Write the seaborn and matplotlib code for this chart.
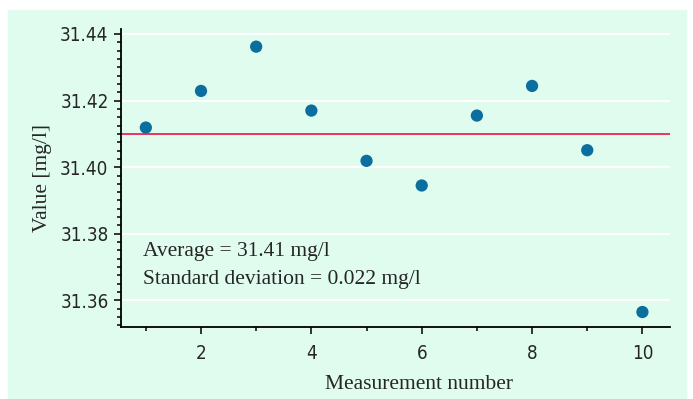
import matplotlib
matplotlib.use('Agg')
import matplotlib.pyplot as plt
import seaborn as sns
import pandas as pd
from matplotlib.ticker import MultipleLocator
from matplotlib.patches import Rectangle
from matplotlib import font_manager

measurement = [1, 2, 3, 4, 5, 6, 7, 8, 9, 10]
value = [31.4119, 31.4229, 31.4362, 31.4170, 31.4019,
         31.3945, 31.4155, 31.4244, 31.4051, 31.3565]
average = 31.41
info_lines = ['Average = 31.41 mg/l', 'Standard deviation = 0.022 mg/l']

df = pd.DataFrame({'Measurement number': measurement, 'Value': value})

mint = '#dffcef'
sns.set_style('white')
plt.rcParams['font.family'] = ['Liberation Serif', 'DejaVu Serif']

fig = plt.figure(figsize=(6.93, 3.99), dpi=100)
# light mint panel behind the whole chart
fig.patches.append(Rectangle((8 / 693, 0), 678 / 693, 389 / 399,
                             transform=fig.transFigure, color=mint, zorder=-5))
ax = fig.add_axes([121 / 693, (399 - 327) / 399, 549 / 693, 298 / 399])
ax.set_facecolor(mint)
ax.set_zorder(2)

sns.scatterplot(data=df, x='Measurement number', y='Value', ax=ax,
                color='#0a6f9f', s=78, edgecolor='none', zorder=3)
ax.axhline(average, color='#ee1248', lw=1.2, zorder=2)

ax.xaxis.set_major_locator(MultipleLocator(2))
ax.xaxis.set_minor_locator(MultipleLocator(1))
ax.yaxis.set_major_locator(MultipleLocator(0.02))
ax.yaxis.set_minor_locator(MultipleLocator(0.0025))
ax.grid(axis='y', which='major', color='white', lw=1.5, zorder=1)
ax.set_axisbelow(True)

for s in ['top', 'right']:
    ax.spines[s].set_visible(False)
for s in ['left', 'bottom']:
    ax.spines[s].set_color('black')
    ax.spines[s].set_linewidth(1.3)

tick_font = font_manager.FontProperties(family='DejaVu Sans', stretch='condensed', size=13.5)
ax.tick_params(axis='both', which='major', direction='out', length=5,
               width=1.1, color='black', left=True, bottom=True, pad=4)
ax.tick_params(axis='x', which='major', pad=7)
ax.tick_params(axis='both', which='minor', direction='out', length=3,
               width=1.1, color='black', left=True, bottom=True)
ax.set_xlim(0.55, 10.5)
ax.set_ylim(31.352, 31.4415)
ax.set_yticks(ax.get_yticks())
ax.set_yticklabels([f'{t:.2f}' for t in ax.get_yticks()], fontproperties=tick_font)
ax.set_xticks(ax.get_xticks())
ax.set_xticklabels([f'{int(t)}' for t in ax.get_xticks()], fontproperties=tick_font)
ax.set_xlim(0.55, 10.5)
ax.set_ylim(31.352, 31.4415)

ax.set_xlabel('Measurement number', fontsize=15.5)
ax.xaxis.set_label_coords(0.543, -0.16)
ax.set_ylabel('Value [mg/l]', fontsize=15.5, labelpad=6)

for i, line in enumerate(info_lines):
    ax.text(0.04, 0.252 - i * 0.091, line, transform=ax.transAxes,
            fontsize=15.5, va='center', ha='left')

fig.savefig('out.png', dpi=100, facecolor='white')
